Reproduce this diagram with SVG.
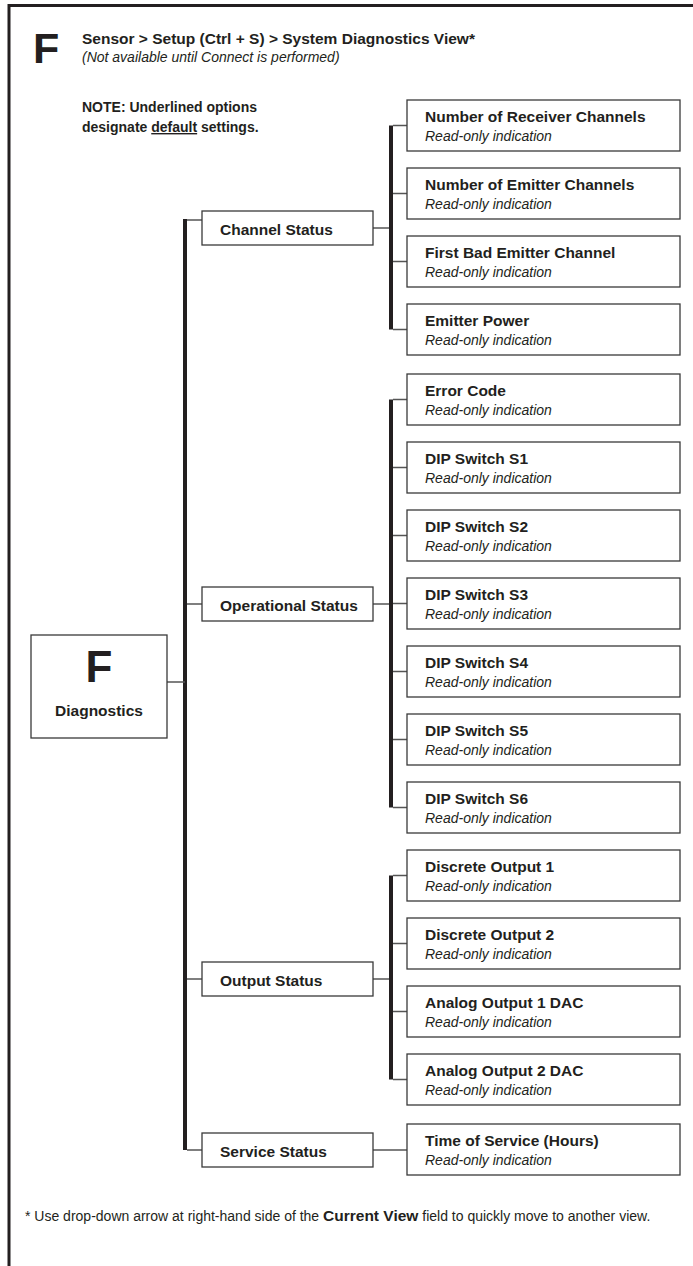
<svg xmlns="http://www.w3.org/2000/svg" width="693" height="1266" viewBox="0 0 693 1266">
<style>
text{font-family:"Liberation Sans",Arial,sans-serif;fill:#231f20}
.b{font-weight:bold}
.t{font-size:15.5px;font-weight:bold}
.s{font-size:14px;font-style:italic}
.box{fill:#fff;stroke:#3a3a3a;stroke-width:1.3}
.trunk{stroke:#231f20;stroke-width:4;fill:none}
.link{stroke:#555;stroke-width:1.3;fill:none}
.frame{stroke:#231f20;stroke-width:3;fill:none}
</style>
<rect width="693" height="1266" fill="#fff"/>
<path class="frame" d="M9,1266 V5.5 H693"/>
<g id="header">
<text x="33" y="63" class="b" font-size="43">F</text>
<text x="82" y="44" class="t">Sensor &gt; Setup (Ctrl + S) &gt; System Diagnostics View*</text>
<text x="82" y="62" class="s">(Not available until Connect is performed)</text>
<text x="82" y="112" class="b" font-size="14">NOTE: Underlined options</text>
<text x="82" y="132" class="b" font-size="14">designate <tspan text-decoration="underline">default</tspan> settings.</text>
</g>
<g id="connectors">
<path class="trunk" d="M185,219 V1150"/>
<path class="link" d="M167,682 H185 M187,220 H202 M187,604 H202 M187,979 H202 M187,1150 H202"/>
<path class="trunk" d="M391,125.5 V329.5 M391,399.5 V807.5 M391,875.5 V1079.5"/>
<path class="link" d="M373,228 H389 M373,604 H389 M373,979 H389 M373,1150 H407"/>
<path class="link" d="M393,125.5 H407 M393,193.5 H407 M393,261.5 H407 M393,329.5 H407 M393,399.5 H407 M393,467.5 H407 M393,535.5 H407 M393,603.5 H407 M393,671.5 H407 M393,739.5 H407 M393,807.5 H407 M393,875.5 H407 M393,943.5 H407 M393,1011.5 H407 M393,1079.5 H407"/>
</g>
<g id="diagnostics">
<rect class="box" x="31" y="635" width="136" height="103"/>
<text x="99" y="682" class="b" font-size="44" text-anchor="middle">F</text>
<text x="99" y="716" class="t" text-anchor="middle">Diagnostics</text>
</g>
<g id="channel-status"><rect class="box" x="202" y="211" width="171" height="34"/><text x="220" y="235" class="t">Channel Status</text></g>
<g id="operational-status"><rect class="box" x="202" y="587" width="171" height="34"/><text x="220" y="611" class="t">Operational Status</text></g>
<g id="output-status"><rect class="box" x="202" y="962" width="171" height="34"/><text x="220" y="986" class="t">Output Status</text></g>
<g id="service-status"><rect class="box" x="202" y="1133" width="171" height="34"/><text x="220" y="1157" class="t">Service Status</text></g>
<g id="receiver-channels"><rect class="box" x="407" y="100" width="273" height="51"/><text x="425" y="122" class="t">Number of Receiver Channels</text><text x="425" y="141" class="s">Read-only indication</text></g>
<g id="emitter-channels"><rect class="box" x="407" y="168" width="273" height="51"/><text x="425" y="190" class="t">Number of Emitter Channels</text><text x="425" y="209" class="s">Read-only indication</text></g>
<g id="first-bad-emitter"><rect class="box" x="407" y="236" width="273" height="51"/><text x="425" y="258" class="t">First Bad Emitter Channel</text><text x="425" y="277" class="s">Read-only indication</text></g>
<g id="emitter-power"><rect class="box" x="407" y="304" width="273" height="51"/><text x="425" y="326" class="t">Emitter Power</text><text x="425" y="345" class="s">Read-only indication</text></g>
<g id="error-code"><rect class="box" x="407" y="374" width="273" height="51"/><text x="425" y="396" class="t">Error Code</text><text x="425" y="415" class="s">Read-only indication</text></g>
<g id="dip-s1"><rect class="box" x="407" y="442" width="273" height="51"/><text x="425" y="464" class="t">DIP Switch S1</text><text x="425" y="483" class="s">Read-only indication</text></g>
<g id="dip-s2"><rect class="box" x="407" y="510" width="273" height="51"/><text x="425" y="532" class="t">DIP Switch S2</text><text x="425" y="551" class="s">Read-only indication</text></g>
<g id="dip-s3"><rect class="box" x="407" y="578" width="273" height="51"/><text x="425" y="600" class="t">DIP Switch S3</text><text x="425" y="619" class="s">Read-only indication</text></g>
<g id="dip-s4"><rect class="box" x="407" y="646" width="273" height="51"/><text x="425" y="668" class="t">DIP Switch S4</text><text x="425" y="687" class="s">Read-only indication</text></g>
<g id="dip-s5"><rect class="box" x="407" y="714" width="273" height="51"/><text x="425" y="736" class="t">DIP Switch S5</text><text x="425" y="755" class="s">Read-only indication</text></g>
<g id="dip-s6"><rect class="box" x="407" y="782" width="273" height="51"/><text x="425" y="804" class="t">DIP Switch S6</text><text x="425" y="823" class="s">Read-only indication</text></g>
<g id="discrete-output-1"><rect class="box" x="407" y="850" width="273" height="51"/><text x="425" y="872" class="t">Discrete Output 1</text><text x="425" y="891" class="s">Read-only indication</text></g>
<g id="discrete-output-2"><rect class="box" x="407" y="918" width="273" height="51"/><text x="425" y="940" class="t">Discrete Output 2</text><text x="425" y="959" class="s">Read-only indication</text></g>
<g id="analog-output-1"><rect class="box" x="407" y="986" width="273" height="51"/><text x="425" y="1008" class="t">Analog Output 1 DAC</text><text x="425" y="1027" class="s">Read-only indication</text></g>
<g id="analog-output-2"><rect class="box" x="407" y="1054" width="273" height="51"/><text x="425" y="1076" class="t">Analog Output 2 DAC</text><text x="425" y="1095" class="s">Read-only indication</text></g>
<g id="time-of-service"><rect class="box" x="407" y="1124" width="273" height="51"/><text x="425" y="1146" class="t">Time of Service (Hours)</text><text x="425" y="1165" class="s">Read-only indication</text></g>
<g id="footnote">
<text x="25" y="1221" font-size="14">* Use drop-down arrow at right-hand side of the <tspan class="b" font-size="15.5">Current View</tspan> field to quickly move to another view.</text>
</g>
</svg>
